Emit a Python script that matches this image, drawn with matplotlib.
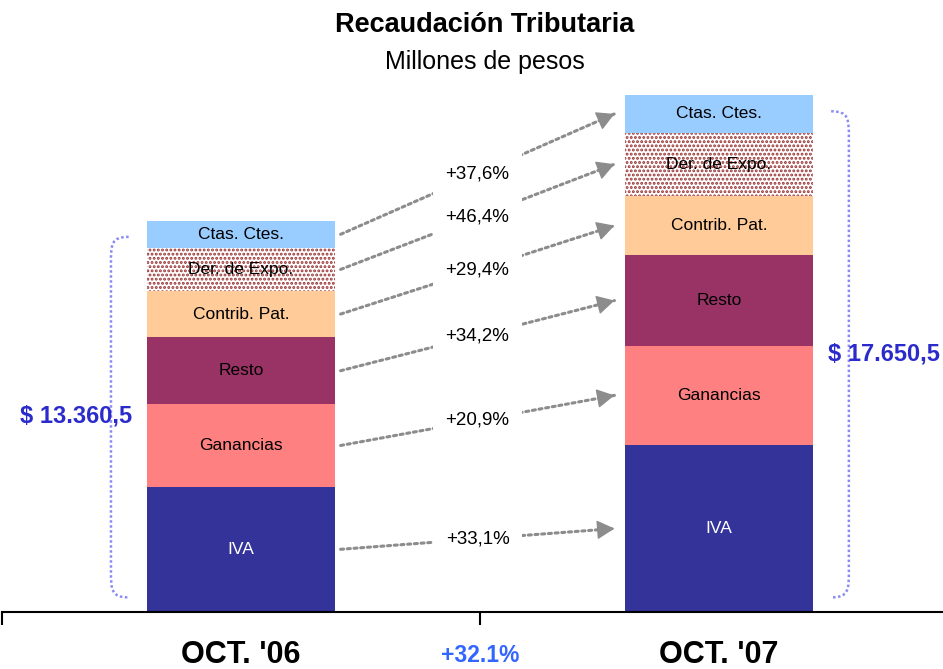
import matplotlib
matplotlib.use("Agg")
import matplotlib.pyplot as plt
import numpy as np
from matplotlib.path import Path
from matplotlib.patches import PathPatch

plt.rcParams['font.family'] = ['Liberation Sans', 'DejaVu Sans']
plt.rcParams['hatch.linewidth'] = 1.4

# data
categories = ["OCT. '06", "OCT. '07"]
segments = ["IVA", "Ganancias", "Resto", "Contrib. Pat.", "Der. de Expo.", "Ctas. Ctes."]
oct06 = [4282, 2810, 2295, 1576, 1473, 925]
oct07 = [5700, 3395, 3080, 2040, 2155, 1280]
growth = ["+33,1%", "+20,9%", "+34,2%", "+29,4%", "+46,4%", "+37,6%"]
totals = ["$ 13.360,5", "$ 17.650,5"]
total_growth = "+32.1%"

colors = ['#333399', '#FF8080', '#993366', '#FFCC99', 'white', '#99CCFF']
text_colors = ['white', 'black', 'black', 'black', 'black', 'black']

W, H = 943, 669
fig = plt.figure(figsize=(W / 100, H / 100), dpi=100)
ax = fig.add_axes([2 / W, (H - 612) / H, 941 / W, (612 - 80) / H])

width = 0.393
x = np.arange(len(categories))
series = [oct06, oct07]
arrow_col = '#8C8C8C'

# stacked bars
mids = []
for i, vals in enumerate(series):
    bottom = 0
    m = []
    for j, v in enumerate(vals):
        if segments[j] == "Der. de Expo.":
            ax.bar(x[i], v, width, bottom=bottom, color='white', edgecolor='#993333',
                   hatch='....', linewidth=0)
        else:
            ax.bar(x[i], v, width, bottom=bottom, color=colors[j], linewidth=0)
        ax.text(x[i], bottom + v / 2, segments[j], ha='center', va='center',
                fontsize=12.5, color=text_colors[j])
        m.append(bottom + v / 2)
        bottom += v
    mids.append(m)

# growth arrows between segments
for j in range(len(segments)):
    x0, y0 = x[0] + width / 2 + 0.012, mids[0][j]
    x1, y1 = x[1] - width / 2 - 0.022, mids[1][j]
    # dotted shaft
    ax.annotate('', xy=(x1, y1), xytext=(x0, y0),
                arrowprops=dict(arrowstyle='-', color=arrow_col, lw=2.2,
                                linestyle=(0, (1, 1.2)), shrinkA=0, shrinkB=0))
    # solid head
    t = 0.95
    ax.annotate('', xy=(x1, y1), xytext=(x0 + t * (x1 - x0), y0 + t * (y1 - y0)),
                arrowprops=dict(arrowstyle='-|>,head_length=1.1,head_width=0.6',
                                color=arrow_col, lw=1, shrinkA=0, shrinkB=0))
    ax.text((x0 + x1) / 2, (y0 + y1) / 2, growth[j], ha='center', va='center',
            fontsize=13.5, color='black',
            bbox=dict(facecolor='white', edgecolor='none', pad=9))

# dotted braces and totals
for i, vals in enumerate(series):
    tot = sum(vals)
    side = -1 if i == 0 else 1
    xs = x[i] + side * 0.272
    xe = x[i] + side * 0.235
    top = tot - 550
    bot = 500
    r = 900
    verts = [(xe, top), (xs, top), (xs, top - r * 0.3), (xs, top - r),
             (xs, bot + r),
             (xs, bot + r * 0.3), (xs, bot), (xe, bot)]
    codes = [Path.MOVETO, Path.CURVE4, Path.CURVE4, Path.CURVE4,
             Path.LINETO, Path.CURVE4, Path.CURVE4, Path.CURVE4]
    ax.add_patch(PathPatch(Path(verts, codes), fill=False, edgecolor='#8A8AF5',
                           lw=1.8, linestyle=(0, (1, 1))))
    ax.text(x[i] + side * 0.345, tot / 2, totals[i], ha='center', va='center',
            fontsize=17, fontweight='bold', color='#2B2BCC')

for s in ['top', 'left', 'right']:
    ax.spines[s].set_visible(False)
ax.spines['bottom'].set_linewidth(1.5)
ax.set_yticks([])
ax.set_xticks([-0.5, 0.5, 1.5])
ax.set_xticklabels([])
ax.tick_params(axis='x', length=9, width=1.5, direction='out')
ax.set_xticks(x, minor=True)
ax.set_xticklabels(categories, minor=True, fontsize=22, fontweight='bold')
ax.tick_params(axis='x', which='minor', length=0, pad=20)
ax.set_xlim(-0.5, 1.469)
ax.set_ylim(0, 532 * 34.15)

ax.text(0.5, -0.082, total_growth, transform=ax.get_xaxis_transform(), ha='center',
        va='center', fontsize=16.5, fontweight='bold', color='#3366FF')

fig.text(485 / W, 1 - 25 / H, "Recaudación Tributaria", ha='center', va='center',
         fontsize=19.5, fontweight='bold')
fig.text(485 / W, 1 - 62 / H, "Millones de pesos", ha='center', va='center',
         fontsize=18)

fig.savefig('out.png', dpi=100)
